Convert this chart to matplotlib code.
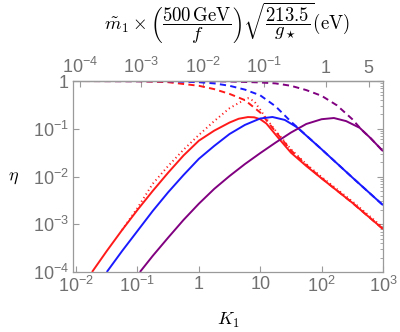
import numpy as np
import matplotlib
matplotlib.use("Agg")
import matplotlib.pyplot as plt
from matplotlib.ticker import FixedLocator, FixedFormatter, LogLocator, NullLocator

plt.rcParams["font.family"] = ["Liberation Sans", "DejaVu Sans"]
plt.rcParams["mathtext.fontset"] = "custom"
plt.rcParams["mathtext.rm"] = "Liberation Sans"
plt.rcParams["mathtext.it"] = "Liberation Sans:italic"
plt.rcParams["mathtext.bf"] = "Liberation Sans:bold"

# values, stored as log10(K1), log10(eta)
red_solid_logk = [-1.74, -1.5, -1.25, -1.0, -0.75, -0.5, -0.25, 0.0, 0.25, 0.5, 0.65, 0.8, 0.9, 1.0, 1.1, 1.3, 1.5, 1.75, 2.0, 2.5, 3.0]
red_solid_loge = [-4.0, -3.56, -3.12, -2.70, -2.30, -1.92, -1.56, -1.25, -1.04, -0.87, -0.79, -0.755, -0.76, -0.80, -0.89, -1.20, -1.50, -1.78, -2.04, -2.55, -3.10]

red_dash_logk = [-2.05, -1.0, -0.5, 0.0, 0.25, 0.5, 0.75, 1.0, 1.25, 1.5, 1.75, 2.0, 2.5, 3.0]
red_dash_loge = [0.0, -0.005, -0.025, -0.10, -0.17, -0.27, -0.40, -0.66, -1.06, -1.45, -1.76, -2.035, -2.55, -3.10]

red_dot_logk = [-1.25, -1.0, -0.75, -0.5, -0.25, 0.0, 0.25, 0.5, 0.65, 0.8, 0.9, 1.0, 1.1, 1.25, 1.5, 1.75, 2.0, 2.5, 3.0]
red_dot_loge = [-3.12, -2.66, -2.15, -1.78, -1.44, -1.13, -0.84, -0.57, -0.46, -0.36, -0.42, -0.60, -0.79, -1.04, -1.43, -1.74, -2.01, -2.52, -3.07]

blue_solid_logk = [-1.5, -1.25, -1.0, -0.75, -0.5, -0.25, 0.0, 0.25, 0.5, 0.75, 1.0, 1.2, 1.4, 1.6, 1.8, 2.0, 2.5, 3.0]
blue_solid_loge = [-4.0, -3.56, -3.14, -2.72, -2.33, -1.97, -1.63, -1.36, -1.11, -0.92, -0.785, -0.754, -0.815, -0.97, -1.20, -1.43, -2.02, -2.60]

blue_dash_logk = [-2.05, -0.5, 0.0, 0.25, 0.5, 0.75, 1.0, 1.25, 1.5, 1.75, 2.0, 2.5, 3.0]
blue_dash_loge = [0.0, -0.005, -0.025, -0.05, -0.10, -0.18, -0.30, -0.53, -0.85, -1.14, -1.43, -2.02, -2.60]

purple_solid_logk = [-0.96, -0.75, -0.5, -0.25, 0.0, 0.25, 0.5, 0.75, 1.0, 1.25, 1.5, 1.75, 2.0, 2.2, 2.4, 2.62, 2.8, 3.0]
purple_solid_loge = [-4.0, -3.66, -3.28, -2.91, -2.57, -2.26, -1.99, -1.74, -1.51, -1.29, -1.08, -0.90, -0.80, -0.775, -0.84, -0.98, -1.20, -1.47]

purple_dash_logk = [-2.05, 0.0, 0.5, 1.0, 1.25, 1.5, 1.75, 2.0, 2.25, 2.5, 2.65, 2.8, 3.0]
purple_dash_loge = [0.0, -0.003, -0.01, -0.03, -0.05, -0.10, -0.19, -0.31, -0.51, -0.80, -1.02, -1.20, -1.47]

bottom_ticks = [1e-2, 1e-1, 1, 10, 1e2, 1e3]
bottom_labels = [r"$10^{-2}$", r"$10^{-1}$", "1", "10", r"$10^{2}$", r"$10^{3}$"]
left_ticks = [1e-4, 1e-3, 1e-2, 1e-1, 1]
left_labels = [r"$10^{-4}$", r"$10^{-3}$", r"$10^{-2}$", r"$10^{-1}$", "1"]
top_ticks = [1e-4, 1e-3, 1e-2, 1e-1, 1, 5]
top_labels = [r"$10^{-4}$", r"$10^{-3}$", r"$10^{-2}$", r"$10^{-1}$", "1", "5"]
M_SCALE = 10 ** -2.065  # eV per unit K1

FRAME = "#9a9a9a"
TICKTXT = "#707070"

fig = plt.figure(figsize=(4.0, 3.32), dpi=100)
ax = fig.add_axes([0.1825, 0.1807, 0.775, 0.5753])

def draw(logk, loge, color, ls):
    ax.plot(10 ** np.array(logk), 10 ** np.array(loge), color=color, lw=1.4, ls=ls,
            solid_capstyle="butt", dash_capstyle="butt")

draw(red_dot_logk, red_dot_loge, "#ff1a1a", (0, (0.6, 1.6)))
draw(red_dash_logk, red_dash_loge, "#ff1a1a", (0, (3.2, 2.2)))
draw(blue_dash_logk, blue_dash_loge, "#1a1aff", (0, (3.2, 2.2)))
draw(purple_dash_logk, purple_dash_loge, "#800080", (0, (3.2, 2.2)))
draw(red_solid_logk, red_solid_loge, "#ff1a1a", "-")
draw(blue_solid_logk, blue_solid_loge, "#1a1aff", "-")
draw(purple_solid_logk, purple_solid_loge, "#800080", "-")

ax.set_xscale("log")
ax.set_yscale("log")
ax.set_xlim(10 ** -2.05, 1e3)
ax.set_ylim(1e-4, 1)

ax.xaxis.set_major_locator(FixedLocator(bottom_ticks))
ax.xaxis.set_major_formatter(FixedFormatter(bottom_labels))
ax.xaxis.set_minor_locator(NullLocator())
ax.yaxis.set_major_locator(FixedLocator(left_ticks))
ax.yaxis.set_major_formatter(FixedFormatter(left_labels))
ax.yaxis.set_minor_locator(LogLocator(base=10, subs=np.arange(2, 10)))

for s in ax.spines.values():
    s.set_color(FRAME)
    s.set_linewidth(0.9)
ax.tick_params(which="major", direction="in", length=4, width=0.8, color=FRAME,
               labelcolor=TICKTXT, labelsize=13, top=False, right=True, pad=3)
ax.tick_params(which="minor", direction="in", length=2, width=0.6, color=FRAME,
               left=False, right=True)

secax = ax.secondary_xaxis("top", functions=(lambda k: k * M_SCALE, lambda m: m / M_SCALE))
secax.xaxis.set_major_locator(FixedLocator(top_ticks))
secax.xaxis.set_major_formatter(FixedFormatter(top_labels))
secax.xaxis.set_minor_locator(NullLocator())
secax.spines["top"].set_color(FRAME)
secax.spines["top"].set_linewidth(0.9)
secax.tick_params(direction="in", length=4, width=0.8, color=FRAME,
                  labelcolor=TICKTXT, labelsize=13, pad=3)

fig.text(13 / 400, 1 - 177 / 332, r"$\eta$", ha="center", va="center",
         fontsize=13, math_fontfamily="cm")
fig.text(228 / 400, 1 - 320 / 332, r"$K_1$", ha="center", va="center",
         fontsize=13, math_fontfamily="cm")
fig.text(227 / 400, 1 - 23 / 332,
         r"$\tilde{m}_1\times\left(\dfrac{500\,\mathrm{GeV}}{f}\right)\sqrt{\dfrac{213.5}{g_\star}}(\mathrm{eV})$",
         ha="center", va="center", fontsize=13.5, math_fontfamily="cm")

fig.savefig("out.png", dpi=100)
